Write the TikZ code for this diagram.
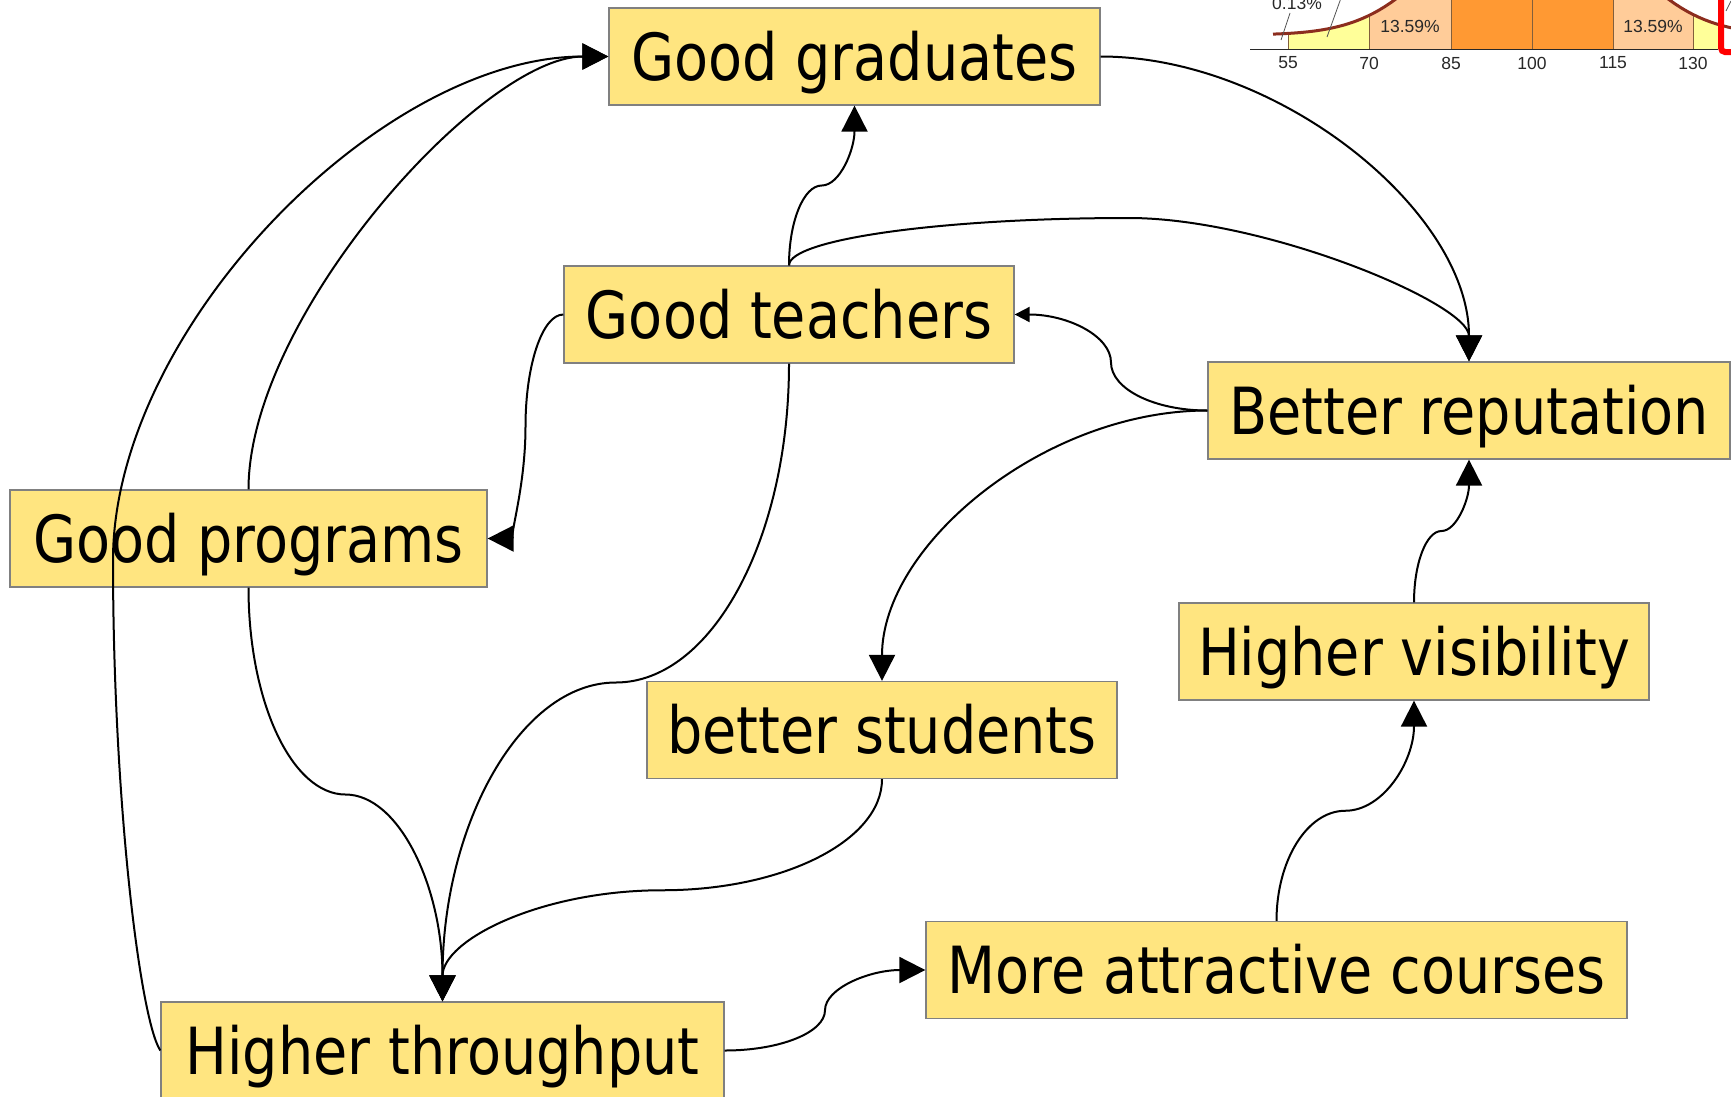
\documentclass[tikz,border=0pt]{standalone}
\usepackage{fontspec}
\newfontfamily\boxfont{DejaVu Sans}[FakeStretch=0.856]
\newfontfamily\chartfont{Liberation Sans}
\usetikzlibrary{arrows.meta,calc}
\definecolor{boxfill}{RGB}{255,229,128}
\definecolor{boxline}{RGB}{128,128,128}
\definecolor{cyel}{RGB}{255,255,153}
\definecolor{cpeach}{RGB}{255,204,153}
\definecolor{corange}{RGB}{255,153,51}
\definecolor{ccurve}{RGB}{140,45,30}
\definecolor{csep}{RGB}{130,95,60}
\definecolor{ctext}{RGB}{40,40,40}
\tikzset{
  boxnode/.style={draw=boxline, fill=boxfill, line width=1.3pt, inner sep=0pt,
    minimum height=97pt, text height=47pt, text depth=0pt,
    font=\boxfont\fontsize{65}{70}\selectfont},
  conn/.style={draw=black, line width=2pt, -{Triangle[length=26pt,width=26pt]}},
  smalltip/.style={-{Triangle[length=15pt,width=15pt]}},
  chartlbl/.style={inner sep=0pt, text=ctext, font=\chartfont\fontsize{17.5}{20}\selectfont},
  leader/.style={draw=ctext!80, line width=0.8pt}
}
% vertical ends, horizontal at the midpoint
\newcommand\vcurve[3][]{\draw[conn,#1] let \p1=(#2), \p2=(#3), \p3=($(\p1)!0.5!(\p2)$) in
  (\p1) .. controls (\x1,{(\y1)+0.552*((\y3)-(\y1))}) and ({(\x3)-0.552*((\x3)-(\x1))},\y3) .. (\p3)
  .. controls ({(\x3)+0.552*((\x2)-(\x3))},\y3) and (\x2,{(\y2)-0.552*((\y2)-(\y3))}) .. (\p2);}
% horizontal ends, vertical at the midpoint
\newcommand\hcurve[3][]{\draw[conn,#1] let \p1=(#2), \p2=(#3), \p3=($(\p1)!0.5!(\p2)$) in
  (\p1) .. controls ({(\x1)+0.552*((\x3)-(\x1))},\y1) and (\x3,{(\y3)-0.552*((\y3)-(\y1))}) .. (\p3)
  .. controls (\x3,{(\y3)+0.552*((\y2)-(\y3))}) and ({(\x2)-0.552*((\x2)-(\x3))},\y2) .. (\p2);}
\begin{document}
\begin{tikzpicture}[x=1pt,y=-1pt]
\fill[white] (0,0) rectangle (1731,1096);
\useasboundingbox (0,0) rectangle (1731,1096);

% ---- fragment of a normal-distribution chart (top right) ----
\begin{scope}
  \clip (1240,-5) rectangle (1718,70);
  \fill[cyel] (1288,49.5) -- plot[domain=1288:1369,samples=30] (\x,{35-148*exp(-((\x-1532)/81)^2/2)}) -- (1369,49.5) -- cycle;
  \fill[cpeach] (1369,49.5) -- plot[domain=1369:1451,samples=30] (\x,{35-148*exp(-((\x-1532)/81)^2/2)}) -- (1451,49.5) -- cycle;
  \fill[corange] (1451,-5) rectangle (1613,49.5);
  \fill[cpeach] (1613,49.5) -- plot[domain=1613:1693,samples=30] (\x,{35-148*exp(-((\x-1532)/81)^2/2)}) -- (1693,49.5) -- cycle;
  \fill[cyel] (1693,49.5) -- plot[domain=1693:1718,samples=15] (\x,{35-148*exp(-((\x-1532)/81)^2/2)}) -- (1718,49.5) -- cycle;
  \foreach \t in {1288,1369,1451,1532,1613,1693}
    \draw[csep, line width=0.9pt] (\t,49.5) -- (\t,{35-148*exp(-((\t-1532)/81)^2/2)});
  \draw[ctext, line width=1.2pt] (1250,49.5) -- (1718,49.5);
\end{scope}
\begin{scope}
  \clip (1240,-5) rectangle (1731,70);
  \draw[ccurve, line width=3pt] plot[domain=1273:1740,samples=80] (\x,{35-148*exp(-((\x-1532)/81)^2/2)});
\end{scope}
\node[chartlbl] (t55) at (1288,63) {55};
\node[chartlbl] (t70) at (1369,63) {70};
\node[chartlbl] (t85) at (1451,63) {85};
\node[chartlbl] (t100) at (1532,63) {100};
\node[chartlbl] (t115) at (1613,63) {115};
\node[chartlbl] (t130) at (1693,63) {130};
\node[chartlbl] (pa) at (1410,26) {13.59\%};
\node[chartlbl] (pb) at (1653,26) {13.59\%};
\node[chartlbl, anchor=base] (pc) at (1297,9.5) {0.13\%};
\draw[leader] (1290,13) -- (1281,40);
\draw[leader] (1341,-2) -- (1327,37);
\draw[leader] (1726,11) -- (1731,1);
\draw[red, line width=6pt, rounded corners=4pt] (1721,-20) rectangle (1790,52);

% ---- boxes ----
\node[boxnode, minimum width=491pt] (grad) at (854.5,56.5) {Good graduates};
\node[boxnode, minimum width=450pt] (teach) at (789,314.5) {Good teachers};
\node[boxnode, minimum width=477pt] (prog) at (248.5,538.5) {Good programs};
\node[boxnode, minimum width=522pt] (rep) at (1469,410.5) {Better reputation};
\node[boxnode, minimum width=470pt] (vis) at (1414,651.5) {Higher visibility};
\node[boxnode, minimum width=470pt] (stud) at (882,730) {better students};
\node[boxnode, minimum width=701pt] (crs) at (1276.5,970) {More attractive courses};
\node[boxnode, minimum width=563pt] (thr) at (442.5,1050.5) {Higher throughput};

% ---- connectors ----
\draw[conn] (grad.east) .. controls +(178,0) and +(0,-150) .. (rep.north);
\draw[conn] (teach.north) .. controls +(0,-26) and (941,218) .. (1129,218)
            .. controls (1265,218) and +(0,-58) .. (rep.north);
\vcurve{teach.north}{grad.south}
\hcurve[smalltip]{rep.west}{teach.east}
\draw[conn] (rep.west) .. controls +(-163,0) and +(0,-136) .. (stud.north);
\hcurve{teach.west}{prog.east}
\vcurve{teach.south}{thr.north}
\draw[conn] (prog.north) .. controls +(0,-173) and +(-126,0) .. (grad.west);
\draw[conn] (thr.west) .. controls (140,1020) and (113,800) .. (113,560)
            .. controls (113,330) and (380,56.5) .. (grad.west);
\vcurve{prog.south}{thr.north}
\vcurve{stud.south}{thr.north}
\hcurve{thr.east}{crs.west}
\vcurve{crs.north}{vis.south}
\vcurve{vis.north}{rep.south}
\end{tikzpicture}
\end{document}
